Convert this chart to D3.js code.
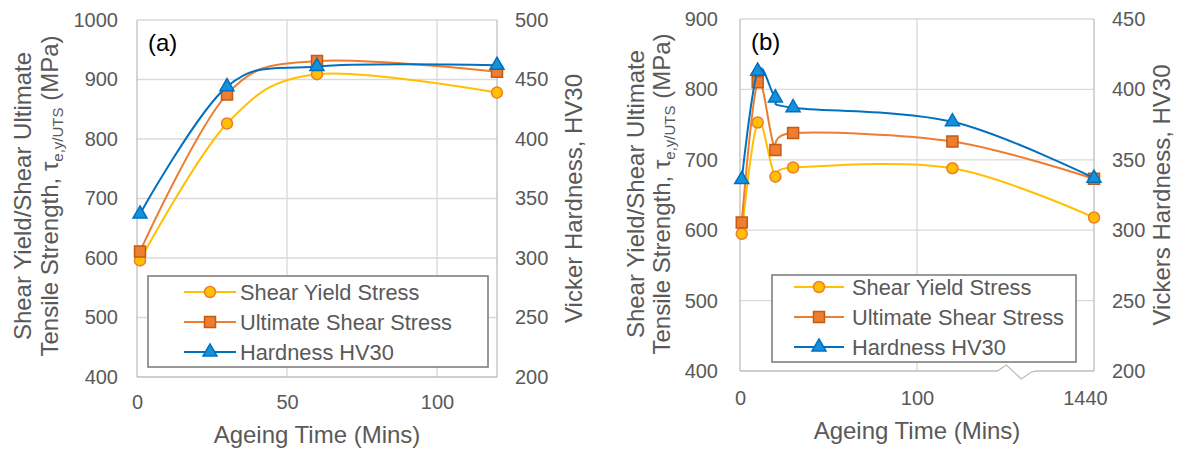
<!DOCTYPE html>
<html>
<head>
<meta charset="utf-8">
<script src="https://cdn.jsdelivr.net/npm/d3@7"></script>
<style>
  body { margin: 0; background: #fff; }
  text { font-family: "Liberation Sans", Arial, sans-serif; }
</style>
</head>
<body>
<svg id="chart" width="1188" height="451"></svg>
<script>
// Panel (a): ageing time in minutes
const timeA = [1, 30, 60, 120];
const yieldA = [596, 826, 909, 878];
const utsA = [611, 875, 931, 913];
const hvA = [337, 444, 461, 462];

// Panel (b): last point (1440 min) sits past the axis break
const timeB = [1, 10, 20, 30, 120, 1440];
const yieldB = [595, 753, 676, 689, 688, 618];
const utsB = [611, 810, 714, 738, 726, 673];
const hvB = [336, 413, 394, 387, 377, 337];

const seriesNames = ["Shear Yield Stress", "Ultimate Shear Stress", "Hardness HV30"];
const xTicksA = [0, 50, 100];
const xTicksB = [0, 100, 1440];
const yTicksA = [400, 500, 600, 700, 800, 900, 1000];
const yTicksB = [400, 500, 600, 700, 800, 900];
const hvTicksA = [200, 250, 300, 350, 400, 450, 500];
const hvTicksB = [200, 250, 300, 350, 400, 450];

const svg = d3.select("#chart");
const tickColor = "#595959";
const gridColor = "#d9d9d9";
const axisColor = "#bfbfbf";

// series styling, same order as seriesNames
const styles = [
    { line: "#FFC000", fill: "#FFC000", stroke: "#ED7D31", shape: "circle" },
    { line: "#ED7D31", fill: "#ED7D31", stroke: "#C55A11", shape: "square" },
    { line: "#0070C0", fill: "#1591DA", stroke: "#0070C0", shape: "triangle" }
];

function drawMarker(sel, st) {
    if (st.shape === "circle") {
        sel.append("circle").attr("r", 5.5);
    } else if (st.shape === "square") {
        sel.append("path").attr("d", d3.symbol(d3.symbolSquare, 121)());
    } else {
        sel.append("path").attr("d", d3.symbol(d3.symbolTriangle, 85)());
    }
    sel.selectAll("circle,path")
        .attr("fill", st.fill)
        .attr("stroke", st.stroke)
        .attr("stroke-width", 1.5);
}

function drawPanel(p) {
    const g = svg.append("g");
    const x = p.x, yL = p.yL, yR = p.yR;

    // horizontal gridlines
    g.selectAll(".hgrid")
        .data(p.yTicks.slice(1))
        .enter().append("line")
        .attr("x1", p.left).attr("x2", p.right)
        .attr("y1", d => yL(d)).attr("y2", d => yL(d))
        .attr("stroke", gridColor).attr("stroke-width", 1.3);

    // vertical gridlines
    g.selectAll(".vgrid")
        .data(p.vGrid)
        .enter().append("line")
        .attr("x1", d => x(d)).attr("x2", d => x(d))
        .attr("y1", p.top).attr("y2", p.bottom)
        .attr("stroke", gridColor).attr("stroke-width", 1.3);

    // axis lines: left, right, bottom
    g.append("line").attr("x1", p.left).attr("x2", p.left)
        .attr("y1", p.top).attr("y2", p.bottom)
        .attr("stroke", axisColor).attr("stroke-width", 1.3);
    g.append("line").attr("x1", p.right).attr("x2", p.right)
        .attr("y1", p.top).attr("y2", p.bottom)
        .attr("stroke", axisColor).attr("stroke-width", 1.3);
    if (p.breakAt != null) {
        const bx = x(p.breakAt), by = p.bottom;
        g.append("path")
            .attr("d", `M${p.left},${by}H${bx - 17}L${bx - 8},${by - 6}L${bx + 7},${by + 8}L${bx + 17},${by + 1}L${bx + 22},${by}H${p.right}`)
            .attr("fill", "none").attr("stroke", axisColor).attr("stroke-width", 1.3);
    } else {
        g.append("line").attr("x1", p.left).attr("x2", p.right)
            .attr("y1", p.bottom).attr("y2", p.bottom)
            .attr("stroke", axisColor).attr("stroke-width", 1.3);
    }

    // tick labels
    const styleTicks = a => {
        a.select(".domain").remove();
        a.attr("font-family", null).attr("font-size", null);
        a.selectAll("text").attr("font-size", 20).attr("fill", tickColor);
    };
    const fmt = d3.format("d");
    g.append("g").attr("transform", `translate(${p.left},0)`)
        .call(d3.axisLeft(yL).tickValues(p.yTicks).tickSize(0).tickPadding(p.padL).tickFormat(fmt))
        .call(styleTicks);
    g.append("g").attr("transform", `translate(${p.right},0)`)
        .call(d3.axisRight(yR).tickValues(p.hvTicks).tickSize(0).tickPadding(18).tickFormat(fmt))
        .call(styleTicks);
    const xAx = g.append("g").attr("transform", `translate(0,${p.bottom})`)
        .call(d3.axisBottom(x).tickValues(p.xTicks).tickSize(0).tickPadding(p.padB).tickFormat(fmt))
        .call(styleTicks);
    if (p.lastTickShift) {
        xAx.selectAll("text").filter(d => d === p.xTicks[p.xTicks.length - 1])
            .attr("dx", p.lastTickShift);
    }

    // series
    const sets = [
        { vals: p.yieldV, y: yL },
        { vals: p.utsV, y: yL },
        { vals: p.hvV, y: yR }
    ];
    sets.forEach((s, i) => {
        const pts = p.time.map((t, j) => [x(t), s.y(s.vals[j])]);
        const line = d3.line().curve(d3.curveCardinal.tension(0));
        g.append("path").attr("d", line(pts))
            .attr("fill", "none").attr("stroke", styles[i].line).attr("stroke-width", 2);
        g.selectAll(".m" + i).data(pts).enter().append("g")
            .attr("transform", d => `translate(${d[0]},${d[1]})`)
            .each(function () { drawMarker(d3.select(this), styles[i]); });
    });

    // panel label
    g.append("text").attr("x", p.left + 11).attr("y", p.top + 31)
        .attr("font-size", 24).attr("fill", "#000").text(p.label);

    // legend
    const lg = p.legend;
    g.append("rect").attr("x", lg.x).attr("y", lg.y).attr("width", lg.w).attr("height", lg.h)
        .attr("fill", "#fff").attr("stroke", "#7f7f7f").attr("stroke-width", 1.6);
    seriesNames.forEach((name, i) => {
        const ry = lg.y + lg.first + i * lg.step;
        g.append("line").attr("x1", lg.x + lg.lx0).attr("x2", lg.x + lg.lx1)
            .attr("y1", ry).attr("y2", ry)
            .attr("stroke", styles[i].line).attr("stroke-width", 2);
        const mk = g.append("g").attr("transform", `translate(${lg.x + (lg.lx0 + lg.lx1) / 2},${ry})`);
        drawMarker(mk, styles[i]);
        g.append("text").attr("x", lg.x + lg.tx).attr("y", ry).attr("dy", "0.35em")
            .attr("font-size", 21.8).attr("fill", tickColor).text(name);
    });

    // x title
    g.append("text").attr("x", (p.left + p.right) / 2).attr("y", p.xTitleY).attr("dy", "0.35em")
        .attr("text-anchor", "middle").attr("font-size", 24).attr("fill", tickColor)
        .text("Ageing Time (Mins)");

    // left title, two lines
    const cy = p.yTitleCy;
    g.append("text").attr("transform", `translate(${p.yTitleX1},${cy}) rotate(-90)`)
        .attr("dy", "0.35em").attr("text-anchor", "middle")
        .attr("font-size", 24).attr("fill", tickColor)
        .text("Shear Yield/Shear Ultimate");
    const t2 = g.append("text").attr("transform", `translate(${p.yTitleX2},${cy}) rotate(-90)`)
        .attr("dy", "0.35em").attr("text-anchor", "middle")
        .attr("font-size", 24).attr("fill", tickColor);
    t2.append("tspan").text("Tensile Strength, τ");
    t2.append("tspan").attr("font-size", 15).attr("dy", 5).text("e,y/UTS");
    t2.append("tspan").attr("dy", -5).text(" (MPa)");

    // right title
    g.append("text").attr("transform", `translate(${p.rTitleX},${(p.top + p.bottom) / 2}) rotate(-90)`)
        .attr("dy", "0.35em").attr("text-anchor", "middle")
        .attr("font-size", 24).attr("fill", tickColor)
        .text(p.rTitle);
}

// panel (a)
const aBox = { left: 137, right: 497, top: 20, bottom: 377 };
drawPanel({
    ...aBox,
    x: d3.scaleLinear().domain([0, 120]).range([aBox.left, aBox.right]),
    yL: d3.scaleLinear().domain([400, 1000]).range([aBox.bottom, aBox.top]),
    yR: d3.scaleLinear().domain([200, 500]).range([aBox.bottom, aBox.top]),
    yTicks: yTicksA, hvTicks: hvTicksA, xTicks: xTicksA, vGrid: [50, 100],
    time: timeA, yieldV: yieldA, utsV: utsA, hvV: hvA,
    padL: 19, padB: 18,
    label: "(a)",
    legend: { x: 148, y: 276, w: 340, h: 91, first: 16, step: 30, lx0: 36, lx1: 88, tx: 92 },
    xTitleY: 435, yTitleX1: 23, yTitleX2: 50, yTitleCy: 196,
    rTitleX: 574, rTitle: "Vicker Hardness, HV30"
});

// panel (b): broken axis, 1440 placed at the right edge
const bBox = { left: 740, right: 1094, top: 19, bottom: 371 };
const pxPerMin = (bBox.right - bBox.left) / 200;
drawPanel({
    ...bBox,
    x: d3.scaleLinear().domain([0, 155, 1440])
        .range([bBox.left, bBox.left + 155 * pxPerMin, bBox.right]),
    yL: d3.scaleLinear().domain([400, 900]).range([bBox.bottom, bBox.top]),
    yR: d3.scaleLinear().domain([200, 450]).range([bBox.bottom, bBox.top]),
    yTicks: yTicksB, hvTicks: hvTicksB, xTicks: xTicksB, vGrid: [100],
    time: timeB, yieldV: yieldB, utsV: utsB, hvV: hvB,
    padL: 22, padB: 20, breakAt: 155, lastTickShift: -9,
    label: "(b)",
    legend: { x: 772, y: 275, w: 304, h: 87, first: 12, step: 30, lx0: 22, lx1: 72, tx: 80 },
    xTitleY: 431, yTitleX1: 636, yTitleX2: 662, yTitleCy: 194,
    rTitleX: 1162, rTitle: "Vickers Hardness, HV30"
});
</script>
</body>
</html>
